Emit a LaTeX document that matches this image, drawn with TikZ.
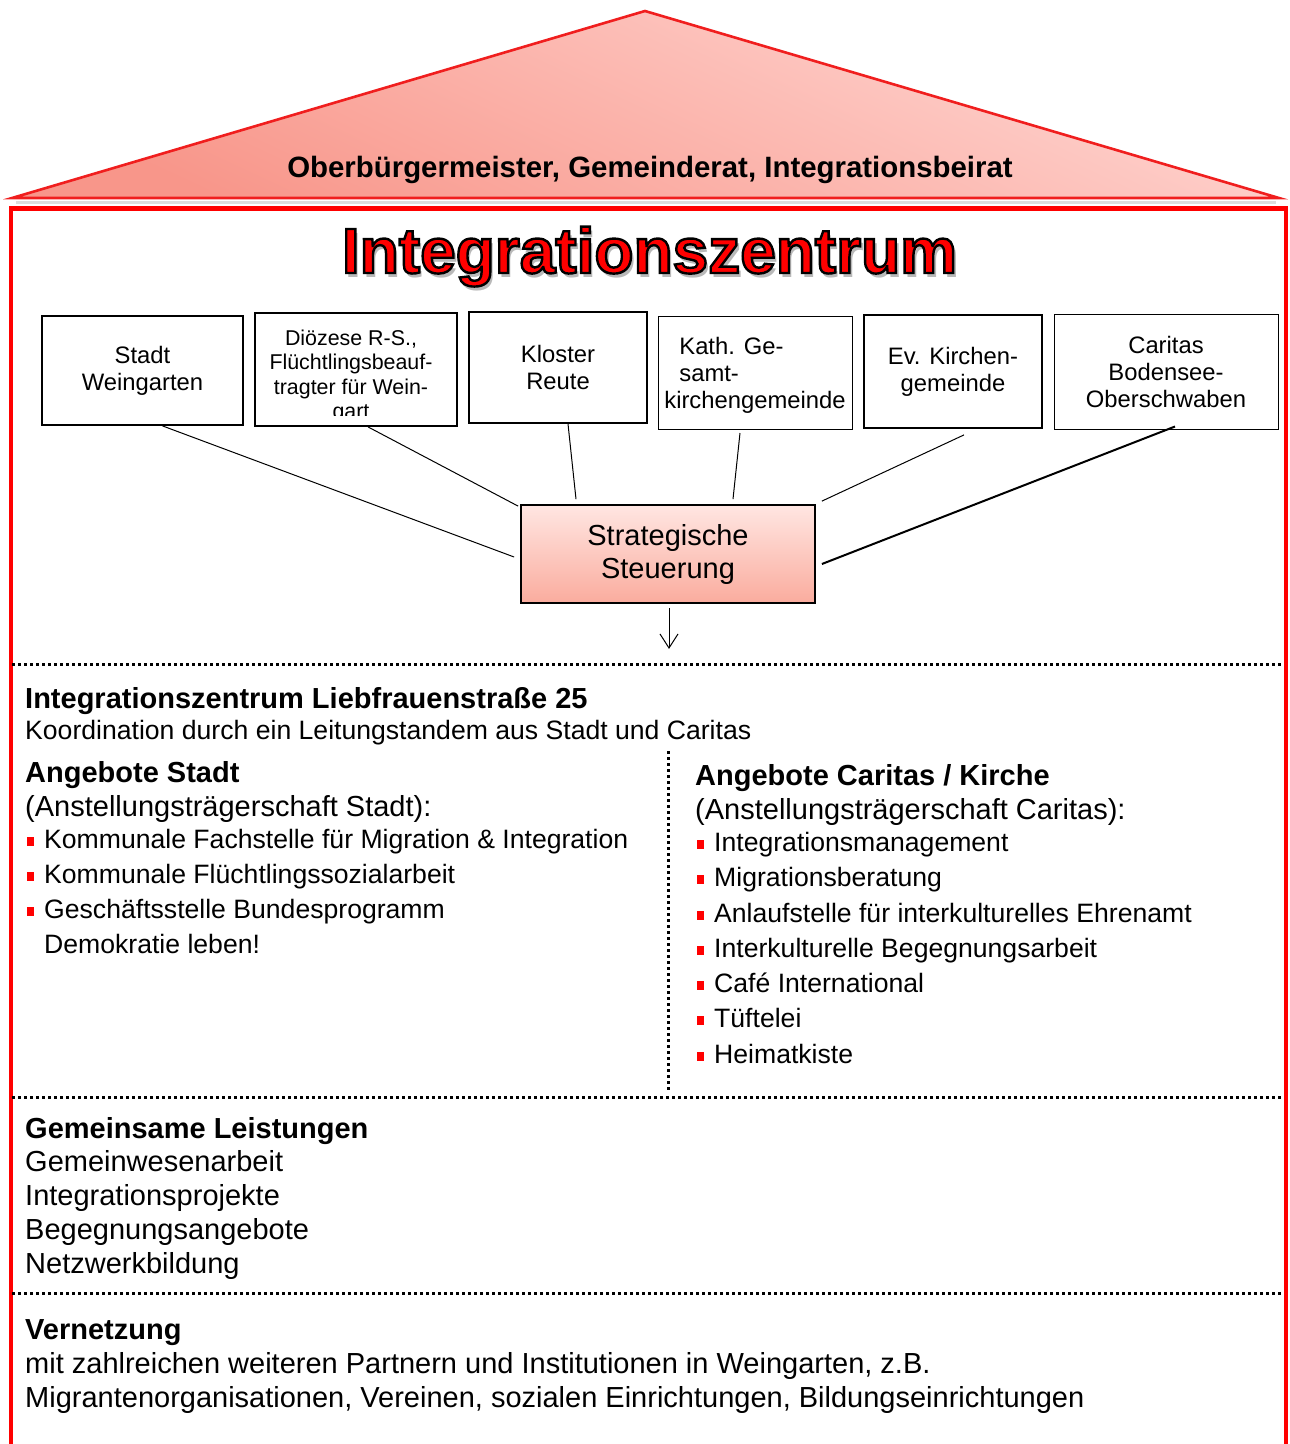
\documentclass[tikz,border=0pt]{standalone}
\usepackage{fontspec}
\setmainfont{Liberation Sans}
\usetikzlibrary{arrows.meta,calc}
\definecolor{framered}{RGB}{255,0,0}
\definecolor{roofred}{RGB}{240,30,30}
\definecolor{rooftop}{RGB}{255,214,210}
\definecolor{roofbot}{RGB}{248,150,138}
\definecolor{strattop}{RGB}{255,230,226}
\definecolor{stratbot}{RGB}{250,172,158}
\newcommand\fsH{\fontsize{29}{33}\selectfont}
\newcommand\fsB{\fontsize{26.6}{31}\selectfont}
\newcommand\redbul{\textcolor{red}{\rule[2.5pt]{7pt}{8.5pt}}}
\newcommand\outlinedtext[1]{\special{pdf:literal direct 2 Tr 2.4 w 0 0 0 RG}#1\special{pdf:literal direct 0 Tr}}
\begin{document}
\begin{tikzpicture}[x=1pt,y=-1pt,
  orgbox/.style={draw=black, line width=1.8pt, align=center, inner sep=2pt,
     font=\fontsize{23.8}{27}\selectfont},
  conn/.style={draw=black, line width=1pt},
  dotline/.style={draw=black, line width=3pt, dash pattern=on 3pt off 3pt},
  txt/.style={anchor=base west, inner sep=0pt, font=\fsB},
  head/.style={anchor=base west, inner sep=0pt, font=\fsH\bfseries},
  big/.style={anchor=base west, inner sep=0pt, font=\fsH},
]
\useasboundingbox (0,0) rectangle (1290,1444);
% roof
\draw[gray!45, line width=3pt, opacity=0.6] (16,202) -- (1276,202);
\shade[top color=rooftop, bottom color=roofbot, shading angle=-25]
  (645,11) -- (1279,198) -- (12,198) -- cycle;
\draw[roofred, line width=2.6pt, line join=miter] (645,11) -- (1279,198) -- (12,198) -- cycle;
\node[anchor=base, inner sep=0pt, font=\fontsize{29.4}{33}\selectfont\bfseries] (rooftext) at (650,177)
  {Oberbürgermeister, Gemeinderat, Integrationsbeirat};
% frame
\draw[framered, line width=4.5pt] (11,1450) -- (11,208.5) -- (1286,208.5) -- (1286,1450);
% title with shadow
\node[anchor=base, inner sep=0pt, font=\fontsize{64}{70}\selectfont\bfseries, text=gray!55] (title) at (652.5,277)
  {Integrationszentrum};
\node[anchor=base, inner sep=0pt, font=\fontsize{64}{70}\selectfont\bfseries, text=red] at (title.base) [yshift=4pt, xshift=-3pt]
  {\outlinedtext{Integrationszentrum}};
% org boxes
\node[orgbox, minimum width=201pt, minimum height=109pt] (stadt) at (142.5,370.5) {Stadt\\Weingarten};
\begin{scope}
  \clip (258,316) rectangle (454,415);
  \node[align=center, inner sep=0pt, font=\fontsize{21.4}{24.5}\selectfont] (dioetext) at (351,376.5)
    {Diözese R-S.,\\Flüchtlingsbeauf-\\tragter für Wein-\\gart};
\end{scope}
\node[orgbox, minimum width=202pt, minimum height=113pt] (dioe) at (356,369.5) {};
\node[orgbox, minimum width=178pt, minimum height=111pt] (kloster) at (558,367.5) {Kloster\\Reute};
\node[orgbox, line width=1pt, minimum width=194pt, minimum height=113pt, align=left, text depth=0pt] (kath) at (755,373)
  {\hspace*{15pt}Kath. Ge-\\\hspace*{15pt}samt-\\kirchengemeinde};
\node[orgbox, minimum width=178pt, minimum height=113pt] (ev) at (953,371.5) {Ev. Kirchen-\\gemeinde};
\node[orgbox, line width=1pt, minimum width=224pt, minimum height=115pt] (caritas) at (1166,371.5) {Caritas\\Bodensee-\\Oberschwaben};
% strategic box
\node[draw=black, line width=1.8pt, top color=strattop, bottom color=stratbot, align=center,
  minimum width=294pt, minimum height=98pt, font=\fontsize{29}{33}\selectfont] (strat) at (668,554)
  {Strategische\\Steuerung};
% connectors
\draw[conn] ($(stadt.south)+(20,0)$) -- ($(strat.west)+(-6,3)$);
\draw[conn] ($(dioe.south)+(12,0)$) -- ($(strat.north west)+(-2,2)$);
\draw[conn] ($(kloster.south)+(10,0)$) -- ($(strat.north)+(-92,-5)$);
\draw[conn] ($(kath.south)+(-15,3)$) -- ($(strat.north)+(65,-5)$);
\draw[conn] ($(ev.south)+(11,6)$) -- ($(strat.north east)+(6,-3)$);
\draw[conn, line width=2pt] ($(caritas.south)+(9,-3)$) -- ($(strat.east)+(6,10)$);
\draw[conn, -{Straight Barb[length=14pt,width=18pt,line width=1pt]}] ($(strat.south)+(1,4)$) -- ($(strat.south)+(1,45)$);
% dotted separators
\draw[dotline] (12,664) -- (1283,664);
\draw[dotline] (12,1097) -- (1283,1097);
\draw[dotline] (12,1293) -- (1283,1293);
\draw[dotline] (668,751) -- (668,1090);
% section 1
\node[head] (izl) at (25,708) {Integrationszentrum Liebfrauenstraße 25};
\node[txt] (koord) at (25,739) {Koordination durch ein Leitungstandem aus Stadt und Caritas};
\node[head] (angstadt) at (25,782) {Angebote Stadt};
\node[big] (anststadt) at (25,816) {(Anstellungsträgerschaft Stadt):};
\node[txt] (s1) at (27,848) {\makebox[17pt][l]{\redbul}Kommunale Fachstelle für Migration \& Integration};
\node[txt] (s2) at (27,883) {\makebox[17pt][l]{\redbul}Kommunale Flüchtlingssozialarbeit};
\node[txt] (s3) at (27,918) {\makebox[17pt][l]{\redbul}Geschäftsstelle Bundesprogramm};
\node[txt] (s4) at (44,953) {Demokratie leben!};
\node[head] (angcar) at (695,785) {Angebote Caritas / Kirche};
\node[big] (anstcar) at (695,819) {(Anstellungsträgerschaft Caritas):};
\node[txt] (c1) at (697,851) {\makebox[17pt][l]{\redbul}Integrationsmanagement};
\node[txt] (c2) at (697,886) {\makebox[17pt][l]{\redbul}Migrationsberatung};
\node[txt] (c3) at (697,922) {\makebox[17pt][l]{\redbul}Anlaufstelle für interkulturelles Ehrenamt};
\node[txt] (c4) at (697,957) {\makebox[17pt][l]{\redbul}Interkulturelle Begegnungsarbeit};
\node[txt] (c5) at (697,992) {\makebox[17pt][l]{\redbul}Café International};
\node[txt] (c6) at (697,1027) {\makebox[17pt][l]{\redbul}Tüftelei};
\node[txt] (c7) at (697,1063) {\makebox[17pt][l]{\redbul}Heimatkiste};
% section 2
\node[head] (gem) at (25,1138) {Gemeinsame Leistungen};
\node[big] (g1) at (25,1171) {Gemeinwesenarbeit};
\node[big] (g2) at (25,1205) {Integrationsprojekte};
\node[big] (g3) at (25,1239) {Begegnungsangebote};
\node[big] (g4) at (25,1273) {Netzwerkbildung};
% section 3
\node[head] (vern) at (25,1339) {Vernetzung};
\node[big] (v1) at (25,1373) {mit zahlreichen weiteren Partnern und Institutionen in Weingarten, z.B.};
\node[big] (v2) at (25,1407) {Migrantenorganisationen, Vereinen, sozialen Einrichtungen, Bildungseinrichtungen};
\end{tikzpicture}
\end{document}
